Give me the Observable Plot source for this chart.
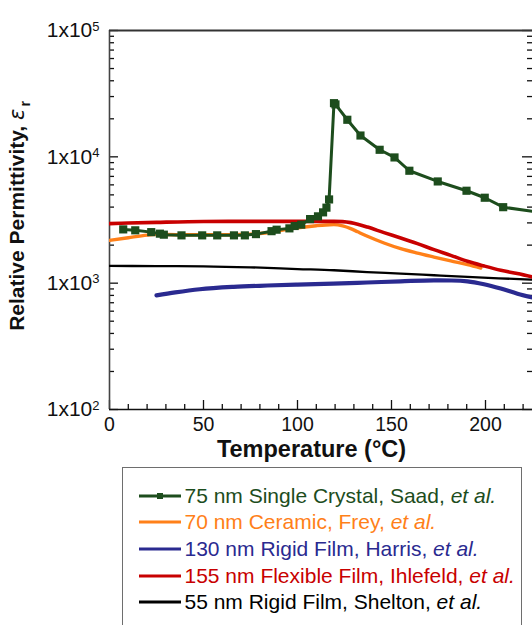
<!DOCTYPE html>
<html><head><meta charset="utf-8">
<script src="https://cdn.jsdelivr.net/npm/d3@7"></script>
<script src="https://cdn.jsdelivr.net/npm/@observablehq/plot@0.6"></script>
<style>
html,body{margin:0;padding:0;overflow:hidden;background:#fff;width:532px;height:625px;}
body{position:relative;font-family:"Liberation Sans",Arial,sans-serif;}
#chart{position:absolute;left:0;top:0;}
#legend{position:absolute;left:122px;top:467px;width:400px;height:200px;border:1.5px solid #6e6e6e;box-sizing:border-box;padding-top:14.5px;}
.row{display:flex;align-items:center;height:26.67px;font-size:21px;white-space:nowrap;}
.row svg{margin-left:15.5px;margin-right:4px;flex:none;}
</style></head><body><div id="chart"></div><div id="legend"></div>
<script>
// ---- axes / ticks ----
const xDomain = [0, 225];
const yDomain = [100, 100000];
const xMajor = [0, 50, 100, 150, 200];
const xMinor = [10, 20, 30, 40, 60, 70, 80, 90, 110, 120, 130, 140, 160, 170, 180, 190, 210, 220];
const yMajor = [100, 1000, 10000, 100000];
const yMinor = [200, 300, 400, 500, 600, 700, 800, 900, 2000, 3000, 4000, 5000, 6000, 7000, 8000, 9000, 20000, 30000, 40000, 50000, 60000, 70000, 80000, 90000];
const yTickBase = "1x10";
const xTitle = "Temperature (°C)";
const yTitle = "Relative Permittivity, ";
const yTitleSymbol = "ε";
const yTitleSub = "r";

// ---- series ----
const saadT = [7.3, 13.7, 22.2, 26.8, 28.9, 38.3, 49.3, 57.3, 66.2, 72.0, 77.9, 86.2, 88.9, 95.7, 98.5, 102, 106.7, 110.9, 113.6, 115.4, 116.8, 119.4, 120.2, 126.5, 133.5, 143.7, 151.6, 159.5, 174.6, 189.9, 199.6, 209.4, 230];
const saadE = [2665, 2620, 2535, 2465, 2420, 2390, 2390, 2390, 2390, 2390, 2445, 2580, 2650, 2715, 2834, 2905, 3215, 3380, 3635, 3960, 4600, 26600, 26000, 19650, 14750, 11370, 9890, 7760, 6385, 5390, 4745, 3995, 3610];

const freyT = [0, 10, 20, 25, 30, 40, 50, 60, 70, 80, 90, 100, 110, 115, 119.4, 124, 128.3, 132, 137.2, 146, 154.9, 163.8, 172.6, 181.5, 190.4, 197.5];
const freyE = [2180, 2290, 2400, 2440, 2430, 2420, 2420, 2420, 2430, 2470, 2600, 2740, 2850, 2890, 2905, 2840, 2706, 2550, 2350, 2080, 1875, 1730, 1610, 1500, 1402, 1318];

const harrisT = [25, 35, 48, 66, 84, 100, 119, 137, 154.9, 172.6, 182, 190.4, 199.2, 208.1, 217, 225];
const harrisE = [801, 845, 895, 935, 958, 975, 991, 1012, 1034, 1053, 1050, 1034, 980, 906, 826, 770];

const ihleT = [0, 10, 25, 50, 75, 100, 119.4, 124, 128.3, 132, 137.2, 146, 154.9, 163.8, 172.6, 181.5, 190.4, 199.2, 208.1, 216.9, 225];
const ihleE = [2960, 2990, 3030, 3080, 3085, 3085, 3085, 3070, 3015, 2930, 2780, 2512, 2277, 2055, 1842, 1660, 1490, 1368, 1265, 1191, 1120];

const sheltonT = [0, 25, 50, 75, 100, 119.4, 137, 154.9, 172.6, 190.4, 207, 225];
const sheltonE = [1368, 1365, 1359, 1335, 1294, 1265, 1225, 1191, 1155, 1120, 1092, 1067];

// ---- legend ----
const legendNames = ["75 nm Single Crystal, Saad, ", "70 nm Ceramic, Frey, ", "130 nm Rigid Film, Harris, ", "155 nm Flexible Film, Ihlefeld, ", "55 nm Rigid Film, Shelton, "];
const legendEtAl = "et al.";
const colors = ["#1d4d1d", "#ff8019", "#2a2a90", "#c80000", "#000000"];

const zip = (T, E) => T.map((t, i) => ({t, e: E[i]}));
const saad = zip(saadT, saadE), frey = zip(freyT, freyE), harris = zip(harrisT, harrisE), ihle = zip(ihleT, ihleE), shelton = zip(sheltonT, sheltonE);

const W = 532, H = 467, mL = 109, mR = 0, mT = 30, mB = 58;
const innerW = W - mL - mR, innerH = H - mT - mB;
const ink = "#111";

const chart = Plot.plot({
  width: W, height: H, marginLeft: mL, marginRight: mR, marginTop: mT, marginBottom: mB,
  style: {fontFamily: "Liberation Sans, Arial, sans-serif", background: "white", overflow: "visible", color: ink},
  x: {domain: xDomain},
  y: {type: "log", domain: yDomain},
  marks: [
    Plot.axisX({ticks: xMajor, tickSize: 0, tickPadding: 8, fontSize: 19.5, label: null, tickFormat: d => String(d)}),
    Plot.axisY({ticks: yMajor, tickSize: 0, tickPadding: 10, fontSize: 21, label: null, tickFormat: d => yTickBase + "^" + Math.round(Math.log10(d))}),
    // ticks
    Plot.ruleX(xMajor, {insetTop: innerH - 9, stroke: ink, strokeWidth: 1.3}),
    Plot.ruleX(xMinor, {insetTop: innerH - 5, stroke: ink, strokeWidth: 1.3}),
    Plot.ruleY(yMajor, {insetRight: innerW - 9, stroke: ink, strokeWidth: 1.3}),
    Plot.ruleY(yMinor, {insetRight: innerW - 5, stroke: ink, strokeWidth: 1.3}),
    Plot.ruleY(yMajor, {insetLeft: innerW - 10, stroke: ink, strokeWidth: 1.3}),
    Plot.ruleY(yMinor, {insetLeft: innerW - 5, stroke: ink, strokeWidth: 1.3}),
    // frame lines
    Plot.ruleX([xDomain[0]], {stroke: "#444", strokeWidth: 1.6}),
    Plot.ruleY([yDomain[0]], {stroke: ink, strokeWidth: 1.6}),
    Plot.ruleY([yDomain[1]], {stroke: "#333", strokeWidth: 2}),
    // series
    Plot.line(shelton, {x: "t", y: "e", stroke: colors[4], strokeWidth: 2.3, curve: "monotone-x", clip: true}),
    Plot.line(harris, {x: "t", y: "e", stroke: colors[2], strokeWidth: 4.2, curve: "monotone-x", clip: true}),
    Plot.line(frey, {x: "t", y: "e", stroke: colors[1], strokeWidth: 3.4, curve: "monotone-x", clip: true}),
    Plot.line(ihle, {x: "t", y: "e", stroke: colors[3], strokeWidth: 3.6, curve: "monotone-x", clip: true}),
    Plot.line(saad, {x: "t", y: "e", stroke: colors[0], strokeWidth: 3, clip: true}),
    Plot.dot(saad, {x: "t", y: "e", symbol: "square", r: 4.6, fill: colors[0], stroke: "none", clip: true}),
    // titles
    Plot.text([xTitle], {text: d => d, frameAnchor: "bottom", dy: 47, dx: -9.5, fontSize: 23.5, fontWeight: "bold", fill: ink}),
    Plot.text([yTitle], {text: d => d, frameAnchor: "left", textAnchor: "middle", rotate: -90, dx: -92, dy: -4, fontSize: 21, fontWeight: "bold", fill: ink})
  ]
});
document.getElementById("chart").appendChild(chart);

// superscripts in y tick labels, italic symbol + subscript in y title
d3.select(chart).selectAll("text").each(function () {
  const s = this.textContent;
  if (s.includes("^")) {
    const [base, exp] = s.split("^");
    const t = d3.select(this);
    t.text(base);
    t.append("tspan").attr("dy", "-0.5em").attr("font-size", "13px").text(exp);
  } else if (s === yTitle) {
    const t = d3.select(this);
    t.append("tspan").attr("font-style", "italic").attr("font-weight", "normal").attr("font-family", "DejaVu Sans, sans-serif").text(yTitleSymbol);
    t.append("tspan").attr("dy", "0.4em").attr("dx", "2").attr("font-size", "14px").text(yTitleSub);
  }
});

// legend
const legend = d3.select("#legend");
legendNames.forEach((name, i) => {
  const row = legend.append("div").attr("class", "row").style("color", colors[i]);
  const s = row.append("svg").attr("width", 42).attr("height", 12);
  s.append("line").attr("x1", 0).attr("x2", 42).attr("y1", 6).attr("y2", 6).attr("stroke", colors[i]).attr("stroke-width", 3.2);
  if (i === 0) s.append("rect").attr("x", 18).attr("y", 3).attr("width", 6).attr("height", 6).attr("fill", colors[i]);
  const sp = row.append("span");
  sp.append("span").text(name);
  sp.append("i").text(legendEtAl);
});
</script></body></html>
